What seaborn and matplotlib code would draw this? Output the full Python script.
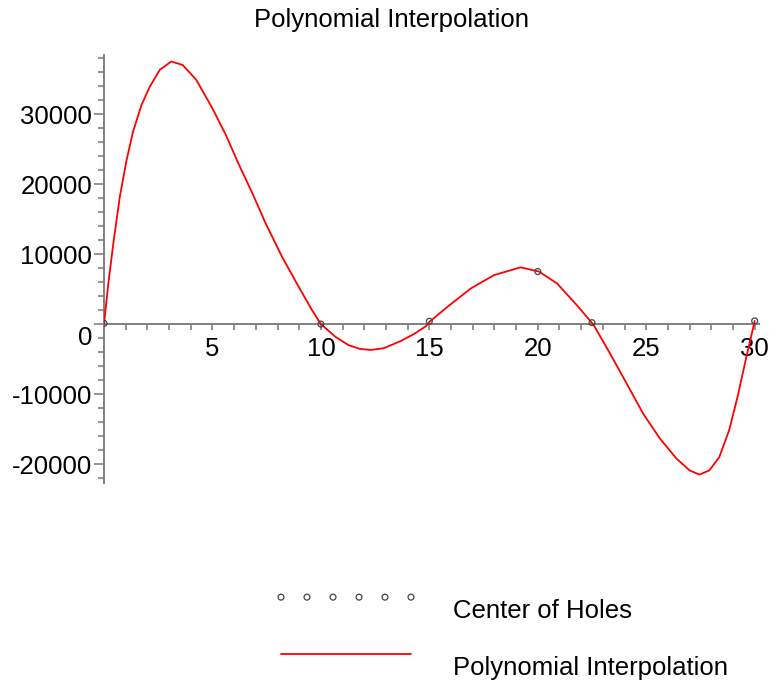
import numpy as np
import pandas as pd
import matplotlib
matplotlib.use("Agg")
import matplotlib.pyplot as plt
import seaborn as sns
from matplotlib.ticker import MultipleLocator
from matplotlib.transforms import ScaledTranslation
from matplotlib.legend_handler import HandlerLine2D, HandlerPathCollection

# ---- data ----
hole_x = [0, 10, 15, 20, 22.5, 30]
hole_y = [100, 0, 400, 7500, 200, 450]

curve_x = [0, 0.2, 0.43, 0.73, 1.04, 1.34, 1.73, 2.11, 2.57, 3.1, 3.63, 4.25,
           5.0, 5.62, 6.23, 6.84, 7.45, 8.21, 8.98, 9.59, 10.0, 10.66, 11.27,
           11.8, 12.3, 12.9, 13.7, 14.3, 14.85, 15.0, 15.85, 16.92, 17.99,
           19.21, 20.05, 20.89, 21.8, 22.57, 23.33, 24.1, 24.86, 25.62, 26.39,
           27.0, 27.45, 27.91, 28.37, 28.83, 29.21, 29.59, 29.97, 30.0]
curve_y = [0, 5800, 11500, 18200, 23400, 27500, 31300, 33900, 36300, 37500,
           37000, 34900, 30800, 27000, 22700, 18700, 14400, 9600, 5300, 2000,
           0, -1800, -3000, -3550, -3700, -3450, -2400, -1400, -300, 300, 2500,
           5100, 7000, 8100, 7500, 5800, 2700, -100, -4200, -8500, -12800,
           -16300, -19200, -20900, -21500, -20900, -19000, -15100, -10400,
           -5100, 0, 450]

x_ticks = [5, 10, 15, 20, 25, 30]
y_ticks = [-20000, -10000, 0, 10000, 20000, 30000]
title = "Polynomial Interpolation"
legend_labels = ["Center of Holes", "Polynomial Interpolation"]

sns.set_style("white")
plt.rcParams["font.family"] = ["Liberation Sans", "DejaVu Sans"]
plt.rcParams["text.color"] = "black"
plt.rcParams["xtick.labelcolor"] = "black"
plt.rcParams["ytick.labelcolor"] = "black"

FS = 18.5
W, H = 776, 685
fig = plt.figure(figsize=(W / 100, H / 100), dpi=100)
ax = fig.add_axes([104 / W, (H - 483) / H, 655 / W, 428 / H])

holes = pd.DataFrame({"x": hole_x, "y": hole_y})
curve = pd.DataFrame({"x": curve_x, "y": curve_y})

sns.lineplot(data=curve, x="x", y="y", ax=ax, color="#ff0000", linewidth=1.3,
             sort=False, label=legend_labels[1], legend=False, zorder=3)
sns.scatterplot(data=holes, x="x", y="y", ax=ax, marker="o", s=18,
                facecolor="none", edgecolor="#444444", linewidth=0.9,
                label=legend_labels[0], legend=False, zorder=4)

ax.set_xlim(0, 30.2)
ax.set_ylim(-22700, 38430)
ax.set_xlabel("")
ax.set_ylabel("")

gray = "#808080"
for s in ["top", "right"]:
    ax.spines[s].set_visible(False)
ax.spines["bottom"].set_position(("data", 0))
ax.spines["left"].set_position(("data", 0))
for s in ["bottom", "left"]:
    ax.spines[s].set_color(gray)
    ax.spines[s].set_linewidth(1.4)

ax.set_xticks(x_ticks)
ax.set_xticklabels([str(t) for t in x_ticks])
ax.xaxis.set_minor_locator(MultipleLocator(1))
ax.set_yticks(y_ticks)
ax.set_yticklabels([str(t) for t in y_ticks])
ax.yaxis.set_minor_locator(MultipleLocator(2000))

ax.tick_params(axis="x", which="both", direction="out", length=4, width=1.2,
               color=gray, labelsize=FS, pad=5, bottom=True, labelcolor="black")
ax.tick_params(axis="y", which="major", direction="out", length=7, width=1.2,
               color=gray, labelsize=FS, pad=1.5, left=True, labelcolor="black")
ax.tick_params(axis="y", which="minor", direction="out", length=4, width=1.2,
               color=gray, left=True)

# the "0" label sits a little below the x axis in the reference
for lab in ax.get_yticklabels():
    if lab.get_text() == "0":
        lab.set_transform(lab.get_transform() +
                          ScaledTranslation(0, -11 / 100, fig.dpi_scale_trans))

fig.text(392 / W, 1 - 20 / H, title, ha="center", va="center", fontsize=FS,
         color="black")


class UpLine(HandlerLine2D):
    def create_artists(self, legend, orig_handle, xdescent, ydescent, width,
                       height, fontsize, trans):
        arts = super().create_artists(legend, orig_handle, xdescent, ydescent,
                                      width, height, fontsize, trans)
        for a in arts:
            a.set_ydata(np.asarray(a.get_ydata(), dtype=float) + 8.6)
        return arts


handles, labels = ax.get_legend_handles_labels()
order = [labels.index(l) for l in legend_labels]
hs = [handles[i] for i in order]
leg = fig.legend(hs, [labels[i] for i in order],
                 loc="upper left", bbox_to_anchor=(281 / W, 1 - 599 / H),
                 frameon=False, fontsize=FS, handlelength=5.06,
                 handletextpad=1.63, labelspacing=1.29, borderpad=0,
                 borderaxespad=0,
                 handler_map={hs[0]: HandlerPathCollection(numpoints=6,
                                                           marker_pad=0,
                                                           yoffsets=[1.16] * 6),
                              hs[1]: UpLine()})
for t in leg.get_texts():
    t.set_color("black")

fig.savefig("out.png", dpi=100, facecolor="white")
